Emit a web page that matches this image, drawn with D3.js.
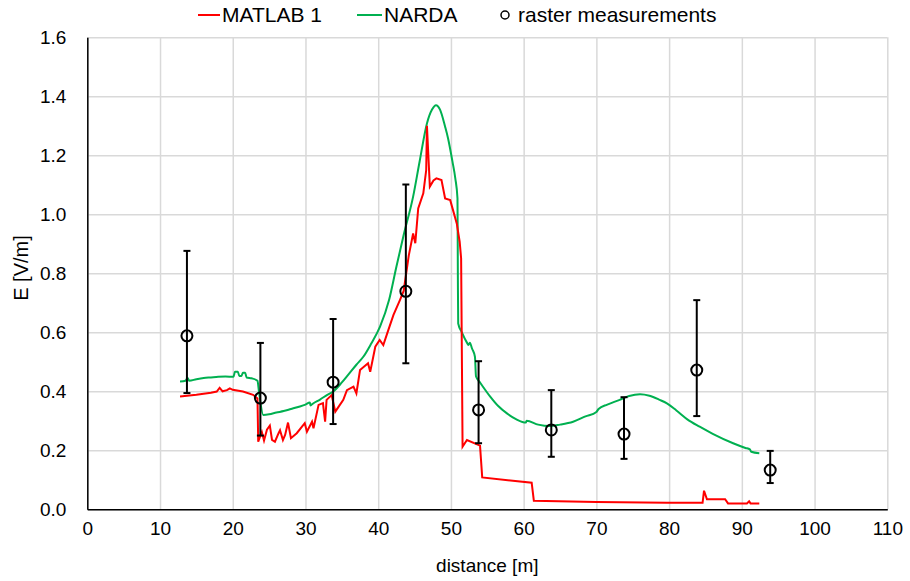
<!DOCTYPE html>
<html>
<head>
<meta charset="utf-8">
<script src="https://cdn.jsdelivr.net/npm/d3@7"></script>
<style>
  body { margin: 0; background: #fff; }
  text { font-family: "Liberation Sans", Arial, sans-serif; fill: #000; }
</style>
</head>
<body>
<svg id="chart" width="910" height="581"></svg>
<script>
// tick labels
const xTicks = [0, 10, 20, 30, 40, 50, 60, 70, 80, 90, 100, 110];
const yTicks = [0, 0.2, 0.4, 0.6, 0.8, 1.0, 1.2, 1.4, 1.6];

// raster measurements with error bars
const measX  = [13.7, 23.8, 33.8, 43.8, 53.8, 63.8, 73.8, 83.8, 93.9];
const measY  = [0.588, 0.377, 0.431, 0.739, 0.337, 0.269, 0.255, 0.472, 0.133];
const measLo = [0.394, 0.250, 0.289, 0.495, 0.224, 0.178, 0.171, 0.316, 0.089];
const measHi = [0.876, 0.564, 0.645, 1.101, 0.502, 0.404, 0.380, 0.709, 0.198];

// MATLAB 1
const matlabX = [12.75, 15.0, 17.0, 17.8, 18.2, 18.6, 19.2, 19.6, 20.0, 21.4, 22.8, 23.4,
  23.5, 24.0, 24.3, 24.7, 25.1, 25.4, 25.8, 26.3, 26.5, 26.9, 27.2, 27.6, 28.0, 28.8,
  29.9, 30.2, 30.9, 31.1, 31.8, 32.4, 32.7, 32.9, 33.6, 34.1, 35.2, 35.7, 36.6, 37.0,
  37.5, 38.6, 38.9, 39.6, 40.2, 40.7, 41.4, 42.1, 43.0, 43.5, 44.2, 44.8, 45.1, 45.5,
  46.2, 46.6, 46.7, 47.1, 47.6, 48.0, 48.7, 49.2, 49.9, 50.8, 51.2, 51.4, 51.6, 52.2,
  54.0, 54.3, 61.1, 61.4, 70.0, 79.7, 84.6, 84.8, 85.2, 87.7, 88.1, 90.7, 91.0, 91.2, 92.4];
const matlabY = [0.382, 0.388, 0.395, 0.399, 0.412, 0.400, 0.404, 0.410, 0.405, 0.399, 0.388, 0.376,
  0.229, 0.262, 0.233, 0.270, 0.284, 0.235, 0.229, 0.258, 0.268, 0.235, 0.252, 0.294, 0.241, 0.258,
  0.292, 0.263, 0.297, 0.275, 0.354, 0.360, 0.297, 0.371, 0.387, 0.331, 0.371, 0.404, 0.416, 0.393,
  0.472, 0.495, 0.466, 0.551, 0.574, 0.557, 0.608, 0.659, 0.710, 0.740, 0.860, 0.935, 0.902, 1.020,
  1.071, 1.150, 1.300, 1.094, 1.115, 1.122, 1.116, 1.054, 1.048, 0.969, 0.907, 0.851, 0.212, 0.235,
  0.216, 0.108, 0.090, 0.029, 0.025, 0.022, 0.022, 0.063, 0.034, 0.034, 0.020, 0.020, 0.027, 0.020, 0.020];

// NARDA
const nardaX = [12.75, 13.5, 13.8, 14.0, 15.0, 16.0, 17.0, 18.0, 19.0, 20.1, 20.3, 20.7, 20.9,
  21.2, 21.4, 21.7, 21.9, 22.6, 23.4, 23.6, 24.2, 25.0, 26.0, 27.0, 28.0, 29.0, 30.0, 30.6,
  30.7, 31.0, 32.0, 33.0, 33.8, 35.0, 36.0, 37.0, 37.95, 39.0, 40.25, 41.5, 42.5, 43.5, 44.8,
  45.7, 46.7, 47.4, 47.95, 48.5, 49.2, 49.6, 50.2, 50.6, 50.9, 50.95, 51.0, 51.5, 52.2, 52.4,
  52.6, 52.9, 53.3, 53.45, 54.0, 55.4, 56.5, 57.7, 59.0, 60.3, 60.4, 62.0, 63.6, 65.0, 66.8,
  68.5, 70.0, 70.3, 71.5, 73.2, 74.5, 76.0, 77.3, 78.7, 79.7, 81.0, 82.5, 84.2, 86.0, 88.8,
  90.5, 91.1, 91.3, 92.4];
const nardaY = [0.433, 0.436, 0.445, 0.436, 0.441, 0.445, 0.447, 0.449, 0.450, 0.449, 0.466, 0.466, 0.452,
  0.452, 0.463, 0.463, 0.447, 0.444, 0.436, 0.400, 0.320, 0.322, 0.328, 0.333, 0.340, 0.347, 0.355, 0.362,
  0.352, 0.358, 0.372, 0.388, 0.399, 0.430, 0.460, 0.490, 0.517, 0.560, 0.619, 0.710, 0.822, 0.930, 1.060,
  1.180, 1.308, 1.355, 1.370, 1.355, 1.297, 1.258, 1.180, 1.122, 1.054, 0.800, 0.630, 0.600, 0.565, 0.557,
  0.565, 0.545, 0.517, 0.450, 0.430, 0.382, 0.350, 0.325, 0.305, 0.294, 0.300, 0.287, 0.282, 0.287, 0.297,
  0.315, 0.330, 0.340, 0.355, 0.371, 0.384, 0.390, 0.385, 0.371, 0.359, 0.335, 0.305, 0.280, 0.256, 0.224,
  0.208, 0.203, 0.195, 0.190];

let svg = d3.select("svg#chart"),
  margin = { top: 37.3, right: 22.7, bottom: 71.7, left: 87.3 },
  width = +svg.attr("width") - margin.left - margin.right,
  height = +svg.attr("height") - margin.top - margin.bottom;

let xScale = d3.scaleLinear().domain([0, 110]).range([0, width]),
  yScale = d3.scaleLinear().domain([0, 1.6]).range([height, 0]);

let g = svg.append("g")
  .attr("transform", "translate(" + margin.left + "," + margin.top + ")");

// grids
g.append("g").attr("class", "grid")
  .call(d3.axisLeft(yScale).tickValues(yTicks).tickSize(-width).tickFormat(""))
  .call(s => s.select(".domain").remove())
  .selectAll("line").attr("stroke", "#d9d9d9").attr("stroke-width", 1.5);
g.append("g").attr("class", "grid")
  .attr("transform", "translate(0," + height + ")")
  .call(d3.axisBottom(xScale).tickValues(xTicks).tickSize(-height).tickFormat(""))
  .call(s => s.select(".domain").remove())
  .selectAll("line").attr("stroke", "#d9d9d9").attr("stroke-width", 1.5);

// axes
let xAxis = g.append("g")
  .attr("transform", "translate(0," + height + ")")
  .call(d3.axisBottom(xScale).tickValues(xTicks).tickSize(0).tickPadding(12));
xAxis.selectAll("text").style("font-size", "19px");
xAxis.select(".domain").attr("stroke", "#000").attr("stroke-width", 1.5);

let yAxis = g.append("g")
  .call(d3.axisLeft(yScale).tickValues(yTicks).tickSize(0).tickPadding(21).tickFormat(d3.format(".1f")));
yAxis.selectAll("text").style("font-size", "19px");
yAxis.select(".domain").attr("stroke", "#000").attr("stroke-width", 1.5);

// axis titles
svg.append("text")
  .attr("x", margin.left + width / 2).attr("y", 572)
  .attr("text-anchor", "middle").style("font-size", "19px")
  .text("distance [m]");
svg.append("text")
  .attr("transform", "translate(28," + 268 + ") rotate(-90)")
  .attr("text-anchor", "middle").style("font-size", "20px")
  .text("E [V/m]");

// lines
const line = d3.line().x(d => xScale(d[0])).y(d => yScale(d[1]));
const smooth = d3.line().x(d => xScale(d[0])).y(d => yScale(d[1])).curve(d3.curveMonotoneX);
g.append("path")
  .datum(nardaX.map((x, i) => [x, nardaY[i]]))
  .attr("fill", "none").attr("stroke", "#00b050").attr("stroke-width", 2)
  .attr("d", smooth);
g.append("path")
  .datum(matlabX.map((x, i) => [x, matlabY[i]]))
  .attr("fill", "none").attr("stroke", "#ff0000").attr("stroke-width", 2)
  .attr("d", line);

// error bars + circles
let meas = measX.map((x, i) => ({ x: x, y: measY[i], lo: measLo[i], hi: measHi[i] }));
let mg = g.selectAll(".meas").data(meas).enter().append("g").attr("class", "meas");
mg.append("line")
  .attr("x1", d => xScale(d.x)).attr("x2", d => xScale(d.x))
  .attr("y1", d => yScale(d.lo)).attr("y2", d => yScale(d.hi))
  .attr("stroke", "#000").attr("stroke-width", 2);
["lo", "hi"].forEach(k => {
  mg.append("line")
    .attr("x1", d => xScale(d.x) - 3.5).attr("x2", d => xScale(d.x) + 3.5)
    .attr("y1", d => yScale(d[k])).attr("y2", d => yScale(d[k]))
    .attr("stroke", "#000").attr("stroke-width", 2);
});
mg.append("circle")
  .attr("cx", d => xScale(d.x)).attr("cy", d => yScale(d.y))
  .attr("r", 5.5).attr("fill", "none").attr("stroke", "#000").attr("stroke-width", 2);

// legend
let lg = svg.append("g").style("font-size", "21px");
lg.append("line").attr("x1", 198).attr("x2", 220).attr("y1", 15).attr("y2", 15)
  .attr("stroke", "#ff0000").attr("stroke-width", 2);
lg.append("text").attr("x", 222).attr("y", 22).text("MATLAB 1");
lg.append("line").attr("x1", 357).attr("x2", 382).attr("y1", 15).attr("y2", 15)
  .attr("stroke", "#00b050").attr("stroke-width", 2);
lg.append("text").attr("x", 384).attr("y", 22).text("NARDA");
lg.append("circle").attr("cx", 505).attr("cy", 15).attr("r", 4)
  .attr("fill", "none").attr("stroke", "#000").attr("stroke-width", 1.5);
lg.append("text").attr("x", 518).attr("y", 22).text("raster measurements");
</script>
</body>
</html>
